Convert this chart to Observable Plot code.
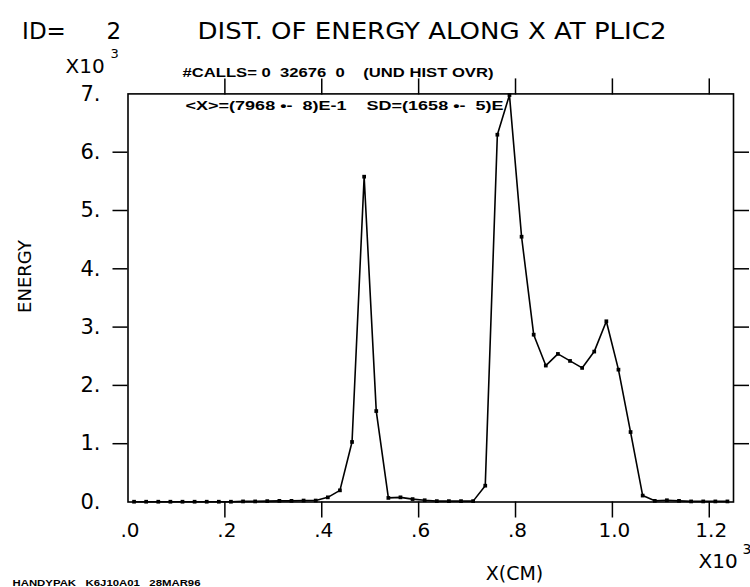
<!DOCTYPE html>
<html><head><meta charset="utf-8">
<script src="https://cdn.jsdelivr.net/npm/d3@7"></script>
<script src="https://cdn.jsdelivr.net/npm/@observablehq/plot@0.6"></script>
<style>html,body{margin:0;padding:0;background:#fff} svg{display:block}</style>
</head><body><div id="chart"></div>
<script>
// ---- data (X in units of 10^3 cm, ENERGY in units of 10^3) ----
const xBins = [0.0125,0.0375,0.0625,0.0875,0.1125,0.1375,0.1625,0.1875,0.2125,0.2375,
               0.2625,0.2875,0.3125,0.3375,0.3625,0.3875,0.4125,0.4375,0.4625,0.4875,
               0.5125,0.5375,0.5625,0.5875,0.6125,0.6375,0.6625,0.6875,0.7125,0.7375,
               0.7625,0.7875,0.8125,0.8375,0.8625,0.8875,0.9125,0.9375,0.9625,0.9875,
               1.0125,1.0375,1.0625,1.0875,1.1125,1.1375,1.1625,1.1875,1.2125,1.2375];
const energy = [0.005,0.005,0.005,0.005,0.005,0.005,0.005,0.005,0.005,0.01,
                0.01,0.015,0.02,0.02,0.025,0.025,0.08,0.2,1.03,5.58,
                1.56,0.07,0.08,0.05,0.03,0.015,0.015,0.015,0.015,0.28,
                6.30,6.98,4.55,2.87,2.34,2.54,2.42,2.30,2.58,3.10,
                2.27,1.20,0.11,0.02,0.03,0.02,0.01,0.01,0.01,0.01];
const xLabelTicks = [0, 0.2, 0.4, 0.6, 0.8, 1.0, 1.2];
const xMajorTicks = [0.2, 0.4, 0.6, 0.8, 1.0, 1.2];
const yLabelTicks = [0, 1, 2, 3, 4, 5, 6, 7];
const yMajorTicks = [1, 2, 3, 4, 5, 6];

const idText = "ID=";
const idNum = "2";
const titleText = "DIST. OF ENERGY ALONG X AT PLIC2";
const callsText = "#CALLS=\u00A00\u00A0\u00A032676\u00A0\u00A00\u00A0\u00A0\u00A0\u00A0(UND\u00A0HIST\u00A0OVR)";
const statsText = "<X>=(7968\u00A0\u2022-\u00A0\u00A08)E-1\u00A0\u00A0\u00A0\u00A0SD=(1658\u00A0\u2022-\u00A0\u00A05)E";
const footerText = "HANDYPAK\u00A0\u00A0\u00A0K6J10A01\u00A0\u00A0\u00A028MAR96";
const xLabel = "X(CM)";
const yLabel = "ENERGY";
const expBase = "X10";
const expPow = "3";

const table = xBins.map((x, i) => ({x, e: energy[i]}));

// ---- layout ----
const W = 750, H = 587, ML = 127.5, MR = 17, MT = 93.4, MB = 85.5;
const FONT = "'DejaVu Sans', 'Liberation Sans', sans-serif";
const BOLD = "'Liberation Sans', Arial, sans-serif";

const ann = (txt, ax, ay, o = {}) => Plot.text([txt], {
  text: d => d, frameAnchor: "top-left", dx: ax - ML, dy: ay - MT,
  lineAnchor: "bottom", textAnchor: "start", fill: "black", fontSize: 20,
  fontFamily: FONT, ...o
});

const xFmt = d => d < 1 ? d.toFixed(1).slice(1) : d.toFixed(1);

const svg = Plot.plot({
  width: W, height: H,
  marginLeft: ML, marginRight: MR, marginTop: MT, marginBottom: MB,
  style: {fontFamily: FONT, background: "white", color: "black", overflow: "hidden"},
  x: {domain: [0, 1.25]},
  y: {domain: [0, 7]},
  marks: [
    Plot.frame({stroke: "black", strokeWidth: 1.6}),
    Plot.axisY({ticks: yLabelTicks, tickSize: 0, tickPadding: 27.5, tickFormat: d => d + ".", fontSize: 21, label: null}),
    Plot.axisY({ticks: yMajorTicks, tickSize: 15, tickFormat: () => "", label: null, strokeWidth: 1.5}),
    Plot.axisY({anchor: "right", ticks: yMajorTicks, tickSize: 15, tickFormat: () => "", label: null, strokeWidth: 1.5}),
    Plot.axisX({ticks: xLabelTicks, tickSize: 0, tickPadding: 21, tickFormat: xFmt, fontSize: 20, label: null, dx: 2}),
    Plot.axisX({ticks: xMajorTicks, tickSize: 16, tickFormat: () => "", label: null, strokeWidth: 1.5}),
    Plot.axisX({anchor: "top", ticks: xMajorTicks, tickSize: 16, tickFormat: () => "", label: null, strokeWidth: 1.5}),
    Plot.line(table, {x: "x", y: "e", stroke: "black", strokeWidth: 1.6}),
    Plot.dot(table, {x: "x", y: "e", r: 2.1, fill: "black", stroke: "none", symbol: "square"}),
    ann(idText, 21.6, 38, {fontSize: 23}),
    ann(idNum, 106, 38, {fontSize: 23}),
    ann(titleText, 197, 38, {fontSize: 23}),
    ann(expBase, 65, 72, {fontSize: 20}),
    ann(expPow, 110, 57, {fontSize: 13}),
    ann(callsText, 182, 76, {fontSize: 12, fontWeight: "bold", fontFamily: BOLD}),
    ann(statsText, 185, 109, {fontSize: 12, fontWeight: "bold", fontFamily: BOLD}),
    ann(footerText, 12, 585, {fontSize: 9, fontWeight: "bold", fontFamily: BOLD}),
    ann(xLabel, 514, 579, {fontSize: 19, textAnchor: "middle"}),
    ann(expBase, 698, 567, {fontSize: 20}),
    ann(expPow, 742, 553, {fontSize: 14}),
    ann(yLabel, 25, 276, {fontSize: 18, textAnchor: "middle", lineAnchor: "middle", rotate: -90})
  ]
});

const lengths = new Map([[titleText, 469], [callsText, 311], [statsText, 318], [footerText, 188]]);
svg.querySelectorAll("text").forEach(t => {
  const L = lengths.get(t.textContent);
  if (L) { t.setAttribute("textLength", L); t.setAttribute("lengthAdjust", "spacingAndGlyphs"); }
});
document.getElementById("chart").appendChild(svg);
</script>
</body></html>
